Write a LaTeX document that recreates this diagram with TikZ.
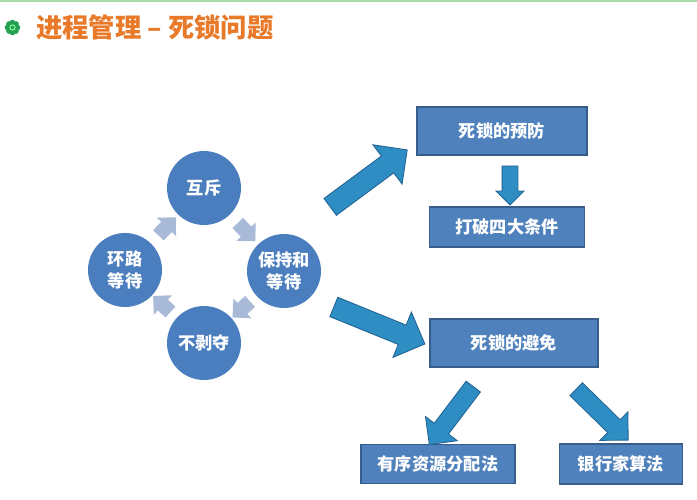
\documentclass[tikz,border=0pt]{standalone}
\usepackage{fontspec}
\newfontfamily\cjk{Noto Sans CJK SC}
\usepackage{tikz}
\usetikzlibrary{calc,positioning,shapes.arrows}
\definecolor{circblue}{RGB}{74,126,190}
\definecolor{boxblue}{RGB}{79,129,189}
\definecolor{boxline}{RGB}{56,93,138}
\definecolor{arrowblue}{RGB}{46,142,196}
\definecolor{arrowline}{RGB}{36,100,148}
\definecolor{softarrow}{RGB}{168,186,216}
\definecolor{titleorange}{RGB}{232,122,42}
\definecolor{leafgreen}{RGB}{34,160,84}
\newcommand\fatarrow[3][]{%
\path let \p1=($(#3)-(#2)$), \n1={atan2(\y1,\x1)}, \n2={veclen(\x1,\y1)} in
  node[single arrow, rotate=\n1, minimum height=\n2, #1] at ($(#2)!0.5!(#3)$) {};}
\begin{document}
\begin{tikzpicture}[x=0.02cm,y=-0.02cm,
  cause/.style={circle, fill=circblue, minimum size=1.48cm, inner sep=0pt, align=center, text=white, font=\cjk\bfseries\fontsize{9.8}{13}\selectfont},
  plan/.style={rectangle, fill=boxblue, draw=boxline, line width=0.6pt, text=white, font=\cjk\bfseries\fontsize{9.8}{12}\selectfont},
  bigarrow/.style={fill=arrowblue, draw=arrowline, line width=0.5pt, inner sep=0.2cm, single arrow head extend=0.28cm},
  smallarrow/.style={fill=softarrow, inner sep=0.14cm, single arrow head extend=0.12cm}]
\useasboundingbox[fill=white] (0,0) rectangle (697,500);
\draw[line width=1.2pt, green!60!black!35] (0,1) -- (697,1);
% title
\fill[leafgreen] (12.5,27.5) circle (5.5);
\foreach \a in {0,45,...,315}
  \fill[leafgreen] (12.5,27.5) ++(\a:5) circle (2.8);
\draw[green!40!white, line width=0.5pt] (12.5,27.5) circle (2.6);
\node[anchor=west, text=titleorange, font=\cjk\bfseries\fontsize{15}{18}\selectfont] (title) at (30,27) {进程管理 – 死锁问题};
% the four conditions
\node[cause] (mutex) at (204,188) {互斥};
\node[cause] (hold) at (284,271) {保持和\\等待};
\node[cause] (nopre) at (204,343) {不剥夺};
\node[cause] (wait) at (125,270) {环路\\等待};
\fatarrow[smallarrow]{$(mutex)!0.39!(hold)$}{$(mutex)!0.61!(hold)$}
\fatarrow[smallarrow]{$(hold)!0.39!(nopre)$}{$(hold)!0.61!(nopre)$}
\fatarrow[smallarrow]{$(nopre)!0.39!(wait)$}{$(nopre)!0.61!(wait)$}
\fatarrow[smallarrow]{$(wait)!0.39!(mutex)$}{$(wait)!0.61!(mutex)$}
% prevention and avoidance
\node[plan, minimum width=3.4cm, minimum height=0.96cm] (prevent) at (502,131) {死锁的预防};
\node[plan, minimum width=3.1cm, minimum height=0.8cm] (breakc) at (507,227) {打破四大条件};
\node[plan, minimum width=3.36cm, minimum height=0.96cm] (avoid) at (514,343) {死锁的避免};
\node[plan, minimum width=3.08cm, minimum height=0.78cm] (order) at (438,464) {有序资源分配法};
\node[plan, minimum width=2.46cm, minimum height=0.8cm] (banker) at (621,464) {银行家算法};
\coordinate (upstart) at (326,210);
\coordinate (upend) at (403,153);
\coordinate (lowstart) at (329,305);
\coordinate (lowend) at (420,342);
\coordinate (downtop) at (510,162);
\coordinate (downend) at (510,201);
\coordinate (leftstart) at (476,383);
\coordinate (leftend) at (432,441);
\coordinate (rightstart) at (573,386);
\coordinate (rightend) at (625,437);
\fatarrow[bigarrow]{upstart}{upend}
\fatarrow[bigarrow]{lowstart}{lowend}
\fatarrow[bigarrow, inner sep=0.15cm, single arrow head extend=0.12cm]{downtop}{downend}
\fatarrow[bigarrow, inner sep=0.17cm, single arrow head extend=0.22cm]{leftstart}{leftend}
\fatarrow[bigarrow, inner sep=0.17cm, single arrow head extend=0.22cm]{rightstart}{rightend}
\end{tikzpicture}
\end{document}
